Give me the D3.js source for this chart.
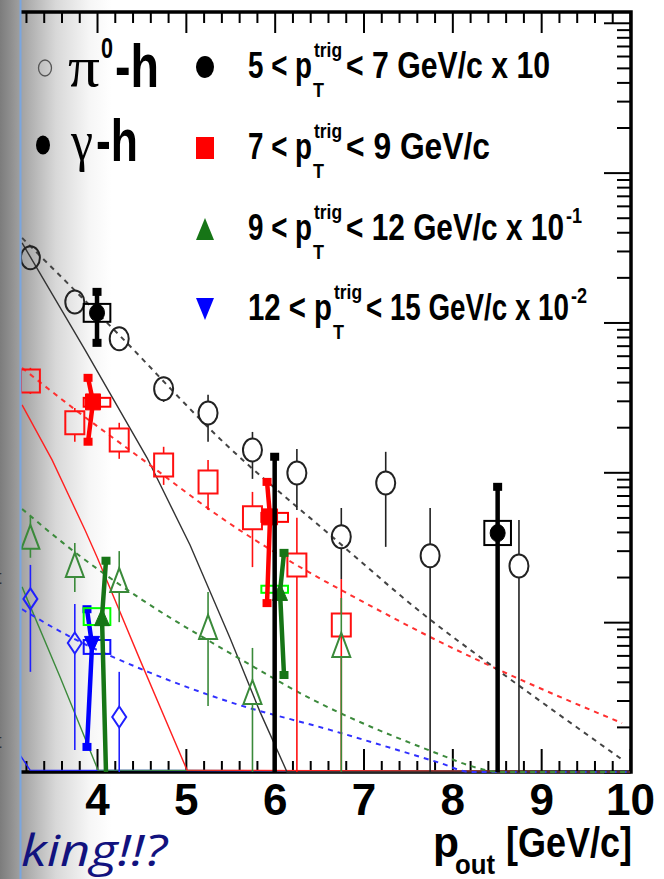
<!DOCTYPE html>
<html>
<head>
<meta charset="utf-8">
<script src="https://cdn.jsdelivr.net/npm/d3@7"></script>
<style>
body{margin:0;background:#fff;overflow:hidden;}
svg{display:block;}
</style>
</head>
<body>
<div id="chart"></div>
<script>
// ---- data (pout in GeV/c, per-trigger yield) ----
// pi0-h, open markers
const piBlackX = [3.25, 3.75, 4.25, 4.75, 5.25, 5.75, 6.25, 6.75, 7.25, 7.75, 8.75];
const piBlackY = [0.270, 0.137, 0.0778, 0.0361, 0.0249, 0.0141, 0.0099, 0.00371, 0.00849, 0.00277, 0.00237];
const piBlackHi = [0.305, 0.155, 0.0893, 0.0434, 0.0329, 0.0186, 0.0143, 0.00578, 0.0137, 0.00578, 0.00481];
const piBlackLo = [0.235, 0.121, 0.0656, 0.0295, 0.0160, 0.00904, 0.00561, 0.00194, 0.00318, 1e-5, 1e-5];

const piRedX = [3.25, 3.75, 4.25, 4.75, 5.25, 5.75, 6.25, 6.75];
const piRedY = [0.0407, 0.0214, 0.0164, 0.0112, 0.00863, 0.00497, 0.00241, 0.000957];
const piRedHi = [0.0498, 0.0269, 0.0214, 0.0148, 0.0121, 0.00740, 0.00497, 0.00194];
const piRedLo = [0.0333, 0.0160, 0.0123, 0.00824, 0.00561, 0.00233, 1e-5, 1e-5];

const piGreenX = [3.25, 3.75, 4.25, 5.25, 5.75, 6.75];
const piGreenY = [0.00371, 0.00241, 0.00191, 0.000929, 0.000342, 0.000705];
const piGreenHi = [0.00504, 0.00338, 0.00298, 0.00159, 0.000673, 0.00145];
const piGreenLo = [0.00269, 0.00159, 0.00100, 0.000276, 1e-5, 1e-5];

const piBlueX = [3.25, 3.75, 4.25];
const piBlueY = [0.00143, 0.000726, 0.000233];
const piBlueHi = [0.00241, 0.00132, 0.000466];
const piBlueLo = [0.000466, 0.000140, 1e-5];

// gamma-h, filled markers (error bar caps sit a bit off the marker)
const gamBlackX = [4.0, 6.0, 8.51];
const gamBlackY = [0.116, 1e-5, 0.00393];
const gamBlackCapX = [4.0, 6.0, 8.51];
const gamBlackHi = [0.160, 0.0127, 0.0080];
const gamBlackLo = [0.0731, 1e-5, 1e-5];
const gamBlackBoxX = [4.0, null, 8.51];
const gamBlackBoxHi = [0.133, null, 0.00474];
const gamBlackBoxLo = [0.101, null, 0.00327];

const gamRedX = [3.955, 5.948];
const gamRedY = [0.0295, 0.00504];
const gamRedCapX = [3.899, 5.914];
const gamRedHi = [0.0427, 0.00863];
const gamRedLo = [0.0160, 0.00134];
const gamRedBoxX = [4.0, 6.0];
const gamRedBoxHi = [0.0314, 0.00536];
const gamRedBoxLo = [0.0274, 0.00467];

const gamGreenX = [4.056, 6.060];
const gamGreenY = [0.00108, 0.00159];
const gamGreenCapX = [4.101, 6.105];
const gamGreenHi = [0.00257, 0.00290];
const gamGreenLo = [1e-5, 0.000444];
const gamGreenBoxX = [4.0, 6.0];
const gamGreenBoxHi = [0.00124, 0.00175];
const gamGreenBoxLo = [0.000957, 0.00157];

const gamBlueX = [3.944];
const gamBlueY = [0.000705];
const gamBlueCapX = [3.887];
const gamBlueHi = [0.00122];
const gamBlueLo = [0.000147];
const gamBlueBoxX = [4.0];
const gamBlueBoxHi = [0.00076];
const gamBlueBoxLo = [0.000614];

// fit curves
const fitDashBlackX = [3.156, 4.248, 5.418, 6.623, 7.715, 8.480, 9.921];
const fitDashBlackY = [0.367, 0.0826, 0.0160, 0.00382, 0.00108, 0.000494, 0.000120];
const fitDashRedX = [3.156, 3.640, 4.518, 5.385, 7.332, 7.861, 8.480, 9.910];
const fitDashRedY = [0.0498, 0.0295, 0.0121, 0.00504, 0.00107, 0.000738, 0.000494, 0.000212];
const fitDashGreenX = [3.156, 3.617, 4.507, 5.497, 6.432, 7.873, 8.199, 8.537, 10];
const fitDashGreenY = [0.00570, 0.00338, 0.00141, 0.000622, 0.000303, 0.000130, 0.000110, 0.00009, 0.00003];
const fitDashBlueX = [3.156, 3.617, 4.574, 5.497, 6.623, 7.861, 8.199, 10];
const fitDashBlueY = [0.00122, 0.000847, 0.000466, 0.000293, 0.000191, 0.000115, 0.0001, 0.00003];

const fitSolidBlackX = [3.156, 3.865, 4.563, 5.047, 5.497, 5.835, 6.139, 10];
const fitSolidBlackY = [0.340, 0.0656, 0.0125, 0.00327, 0.000785, 0.000252, 0.0001, 1e-5];
const fitSolidRedX = [3.156, 3.494, 3.865, 4.0, 4.484, 5.013, 10];
const fitSolidRedY = [0.0282, 0.0121, 0.00412, 0.00272, 0.00056, 0.000103, 1e-5];
const fitSolidGreenX = [3.156, 3.584, 4.011, 10];
const fitSolidGreenY = [0.00172, 0.000431, 0.000103, 1e-5];
const fitSolidBlueX = [3.133, 3.246, 10];
const fitSolidBlueY = [0.00013, 0.000103, 1e-5];

const xTicks = [4, 5, 6, 7, 8, 9, 10];
const legendRows = [
  {lo: "5", hi: "< 7 GeV/c x 10", pow: ""},
  {lo: "7", hi: "< 9 GeV/c", pow: ""},
  {lo: "9", hi: "< 12 GeV/c x 10", pow: "-1"},
  {lo: "12", hi: "< 15 GeV/c x 10", pow: "-2"}
];

// ---- layout ----
const width = 664, height = 879;
const frameL = 20, frameR = 631, frameT = 12, frameB = 772;

const svg = d3.select("#chart").append("svg")
  .attr("width", width).attr("height", height);

const x = d3.scaleLinear().domain([3.133, 10]).range([frameL, 630]);
const y = d3.scaleLog().domain([1e-4, 11.8]).range([frameB, frameT]).clamp(true);

const defs = svg.append("defs");
const grad = defs.append("linearGradient").attr("id", "shade")
  .attr("x1", 0).attr("x2", 1).attr("y1", 0).attr("y2", 0);
grad.append("stop").attr("offset", "0").attr("stop-color", "#7c7c7c");
grad.append("stop").attr("offset", "0.2").attr("stop-color", "#a4a4a4");
grad.append("stop").attr("offset", "0.5").attr("stop-color", "#d8d8d8");
grad.append("stop").attr("offset", "0.8").attr("stop-color", "#f6f6f6");
grad.append("stop").attr("offset", "1").attr("stop-color", "#ffffff");
defs.append("clipPath").attr("id", "plotclip").append("rect")
  .attr("x", frameL + 1).attr("y", frameT).attr("width", frameR - frameL - 1).attr("height", frameB - frameT + 2);

svg.append("rect").attr("width", width).attr("height", height).attr("fill", "#fff");
svg.append("rect").attr("x", 0).attr("y", 0).attr("width", 112).attr("height", height)
  .attr("fill", "url(#shade)");

// ---- axes (ROOT style, ticks inward) ----
const minorX = d3.range(16, 51).map(i => i / 5).filter(v => v % 1 !== 0);
const decades = [1e-4, 1e-3, 1e-2, 1e-1, 1, 10];
const minorY = [];
decades.forEach(d => { for (let k = 2; k < 10; k++) if (d * k < 11.8) minorY.push(d * k); });

function clean(g) {
  g.select(".domain").remove();
  g.selectAll(".tick line").attr("stroke", "#000").attr("stroke-width", 2);
}

svg.append("g").attr("transform", `translate(0,${frameB})`)
  .call(d3.axisBottom(x).tickValues(minorX).tickSize(-11).tickFormat(""))
  .call(clean);
const xAxis = svg.append("g").attr("transform", `translate(0,${frameB})`)
  .call(d3.axisBottom(x).tickValues(xTicks).tickSize(-23).tickPadding(12).tickFormat(d3.format("d")))
  .call(clean);
xAxis.selectAll("text")
  .attr("fill", "#000")
  .style("font-family", "'Liberation Sans', Arial, sans-serif")
  .style("font-weight", "bold")
  .style("font-size", "44px");

svg.append("g").attr("transform", `translate(0,${frameT})`)
  .call(d3.axisTop(x).tickValues(minorX).tickSize(-11).tickFormat(""))
  .call(clean);
svg.append("g").attr("transform", `translate(0,${frameT})`)
  .call(d3.axisTop(x).tickValues(xTicks).tickSize(-21).tickFormat(""))
  .call(clean);

svg.append("g").attr("transform", `translate(${frameR},0)`)
  .call(d3.axisRight(y).tickValues(minorY).tickSize(-14).tickFormat(""))
  .call(clean);
svg.append("g").attr("transform", `translate(${frameR},0)`)
  .call(d3.axisRight(y).tickValues(decades).tickSize(-27).tickFormat(""))
  .call(clean);

// frame
svg.append("path")
  .attr("d", `M${frameL},${frameT}H${frameR}V${frameB}H${frameL}`)
  .attr("fill", "none").attr("stroke", "#000").attr("stroke-width", 3.5);

// ---- fit curves ----
const plot = svg.append("g").attr("clip-path", "url(#plotclip)");
const smooth = d3.line().x(d => x(d[0])).y(d => y(d[1])).curve(d3.curveMonotoneX);
const straight = d3.line().x(d => x(d[0])).y(d => y(d[1]));

const fits = [
  [fitSolidBlueX, fitSolidBlueY, "#2020ff", null],
  [fitSolidGreenX, fitSolidGreenY, "#3c8a3c", null],
  [fitSolidRedX, fitSolidRedY, "#ff2020", null],
  [fitSolidBlackX, fitSolidBlackY, "#333", null],
  [fitDashBlueX, fitDashBlueY, "#3030ff", "5,5"],
  [fitDashGreenX, fitDashGreenY, "#3c8a3c", "5,5"],
  [fitDashRedX, fitDashRedY, "#ff3030", "5,5"],
  [fitDashBlackX, fitDashBlackY, "#444", "5,5"]
];
fits.forEach(([xs, ys, col, dash]) => {
  plot.append("path")
    .datum(xs.map((v, i) => [v, ys[i]]))
    .attr("d", dash ? smooth : straight)
    .attr("fill", "none")
    .attr("stroke", col)
    .attr("stroke-width", dash ? 2 : 1.4)
    .attr("stroke-dasharray", dash);
});

// ---- marker shapes ----
function shapePath(shape, w, h) {
  const a = w / 2, b = h / 2;
  if (shape === "square") return `M${-a},${-b}H${a}V${b}H${-a}Z`;
  if (shape === "up") return `M0,${-b}L${a},${b}L${-a},${b}Z`;
  if (shape === "down") return `M0,${b}L${a},${-b}L${-a},${-b}Z`;
  if (shape === "diamond") return `M0,${-b}L${a},0L0,${b}L${-a},0Z`;
  return `M${-a},0A${a},${b} 0 1,0 ${a},0A${a},${b} 0 1,0 ${-a},0Z`;
}

// pi0-h: open markers, thin error bars stopped at the marker edge
function drawPi(xs, ys, his, los, col, shape, w, h) {
  const g = plot.append("g");
  xs.forEach((v, i) => {
    const cx = x(v), cy = y(ys[i]);
    const yh = y(his[i]), yl = y(los[i]);
    if (yh < cy - h / 2) g.append("line").attr("x1", cx).attr("x2", cx)
      .attr("y1", yh).attr("y2", cy - h / 2).attr("stroke", col).attr("stroke-width", 1.6);
    if (yl > cy + h / 2) g.append("line").attr("x1", cx).attr("x2", cx)
      .attr("y1", cy + h / 2).attr("y2", yl).attr("stroke", col).attr("stroke-width", 1.6);
    g.append("path").attr("d", shapePath(shape, w, h))
      .attr("transform", `translate(${cx},${cy})`)
      .attr("fill", "none").attr("stroke", col).attr("stroke-width", 2);
  });
}

drawPi(piBlackX, piBlackY, piBlackHi, piBlackLo, "#222", "circle", 19, 23);
drawPi(piRedX, piRedY, piRedHi, piRedLo, "#ff1010", "square", 19, 23);
drawPi(piGreenX, piGreenY, piGreenHi, piGreenLo, "#3a8a3a", "up", 18, 24);
drawPi(piBlueX, piBlueY, piBlueHi, piBlueLo, "#2020ff", "diamond", 14, 21);

// gamma-h: filled markers, thick error bars with square caps, systematic boxes
function drawGamma(xs, ys, capXs, his, los, boxXs, boxHis, boxLos, col, boxCol, shape, w, h) {
  const g = plot.append("g");
  xs.forEach((v, i) => {
    if (boxXs[i] != null) {
      g.append("rect")
        .attr("x", x(boxXs[i] - 0.15)).attr("width", x(boxXs[i] + 0.15) - x(boxXs[i] - 0.15))
        .attr("y", y(boxHis[i])).attr("height", y(boxLos[i]) - y(boxHis[i]))
        .attr("fill", "none").attr("stroke", boxCol).attr("stroke-width", 2);
    }
    const visible = ys[i] >= y.domain()[0];
    const pts = visible
      ? [[capXs[i], his[i]], [v, ys[i]], [capXs[i], los[i]]]
      : [[capXs[i], his[i]], [capXs[i], los[i]]];
    g.append("path")
      .attr("d", straight(pts))
      .attr("fill", "none").attr("stroke", col).attr("stroke-width", 4.5);
    [his[i], los[i]].forEach(e => {
      if (e > y.domain()[0]) g.append("rect")
        .attr("x", x(capXs[i]) - 4.5).attr("y", y(e) - 4).attr("width", 9).attr("height", 8)
        .attr("fill", col);
    });
    if (visible) g.append("path").attr("d", shapePath(shape, w, h))
      .attr("transform", `translate(${x(v)},${y(ys[i])})`)
      .attr("fill", col).attr("stroke", col).attr("stroke-width", 1);
  });
}

drawGamma(gamBlueX, gamBlueY, gamBlueCapX, gamBlueHi, gamBlueLo,
  gamBlueBoxX, gamBlueBoxHi, gamBlueBoxLo, "#0000ff", "#1010ff", "down", 15, 17);
drawGamma(gamGreenX, gamGreenY, gamGreenCapX, gamGreenHi, gamGreenLo,
  gamGreenBoxX, gamGreenBoxHi, gamGreenBoxLo, "#167516", "#00ff00", "up", 15, 17);
drawGamma(gamRedX, gamRedY, gamRedCapX, gamRedHi, gamRedLo,
  gamRedBoxX, gamRedBoxHi, gamRedBoxLo, "#ff0000", "#ff0000", "square", 15, 16);
drawGamma(gamBlackX, gamBlackY, gamBlackCapX, gamBlackHi, gamBlackLo,
  gamBlackBoxX, gamBlackBoxHi, gamBlackBoxLo, "#000", "#000", "circle", 15, 17);

// ---- legend ----
const sans = "'Liberation Sans', Arial, sans-serif";
const serif = "'Liberation Serif', 'Times New Roman', serif";
const lg = svg.append("g");

// one text element per label, pieces placed with tspans
function label(parent, pieces) {
  const t = parent.append("text");
  pieces.forEach(p => {
    t.append("tspan").attr("x", p.x).attr("y", p.y).text(p.s)
      .style("font-family", p.serif ? serif : sans)
      .style("font-weight", p.serif ? "normal" : "bold")
      .style("font-size", p.fs + "px")
      .attr("textLength", p.len).attr("lengthAdjust", "spacingAndGlyphs");
  });
  return t;
}

lg.append("ellipse").attr("cx", 45).attr("cy", 68).attr("rx", 6.5).attr("ry", 8)
  .attr("fill", "none").attr("stroke", "#555").attr("stroke-width", 1.3);
label(lg, [
  {s: "π", x: 68, y: 86, fs: 58, len: 32, serif: true},
  {s: "0", x: 101, y: 58, fs: 30, len: 12},
  {s: "-h", x: 115, y: 87, fs: 62, len: 44}
]);

lg.append("ellipse").attr("cx", 43).attr("cy", 145).attr("rx", 7).attr("ry", 9.5).attr("fill", "#000");
label(lg, [
  {s: "γ", x: 71, y: 160, fs: 58, len: 22, serif: true},
  {s: "-h", x: 96, y: 161, fs: 60, len: 42}
]);

const legShapes = [["circle", "#000"], ["square", "#ff0000"], ["up", "#167516"], ["down", "#0000ff"]];
const rowY = [67, 148, 229, 309];
const hiLens = [204, 144, 218, 203];
legendRows.forEach((r, i) => {
  const cy = rowY[i], base = cy + 11;
  lg.append("path").attr("d", shapePath(legShapes[i][0], 18, 22))
    .attr("transform", `translate(205,${cy})`).attr("fill", legShapes[i][1]);
  const wide = r.lo.length > 1 ? 20 : 0;
  const pieces = [
    {s: r.lo + " < p", x: 248, y: base, fs: 37, len: 64 + wide},
    {s: "trig", x: 314 + wide, y: base - 21, fs: 20, len: 28},
    {s: "T", x: 313 + wide, y: base + 19, fs: 20, len: 11},
    {s: r.hi, x: 346 + wide, y: base, fs: 37, len: hiLens[i]}
  ];
  if (r.pow) pieces.push({s: r.pow, x: 346 + wide + hiLens[i] + 2, y: base - 17, fs: 22, len: r.pow.length * 8});
  label(lg, pieces);
});

// axis title
label(svg, [
  {s: "p", x: 433, y: 857, fs: 42, len: 26},
  {s: "out", x: 455, y: 874, fs: 28, len: 40},
  {s: "[GeV/c]", x: 506, y: 857, fs: 42, len: 126}
]);

// window edge, cut-off labels and slide text outside the plot
svg.append("line").attr("x1", 20.5).attr("x2", 20.5).attr("y1", 0).attr("y2", height)
  .attr("stroke", "#7aa6e0").attr("stroke-width", 2);
[584, 748].forEach(yy => svg.append("text").attr("x", -4).attr("y", yy).text("t")
  .attr("fill", "#333").style("font-family", sans).style("font-size", "20px"));
svg.append("text").attr("x", 21).attr("y", 866).text("king!!?")
  .attr("fill", "#12127e")
  .style("font-family", "'Open Sans', 'Noto Sans', sans-serif").style("font-style", "italic")
  .style("font-size", "43px")
  .attr("textLength", 146).attr("lengthAdjust", "spacingAndGlyphs");
</script>
</body>
</html>
